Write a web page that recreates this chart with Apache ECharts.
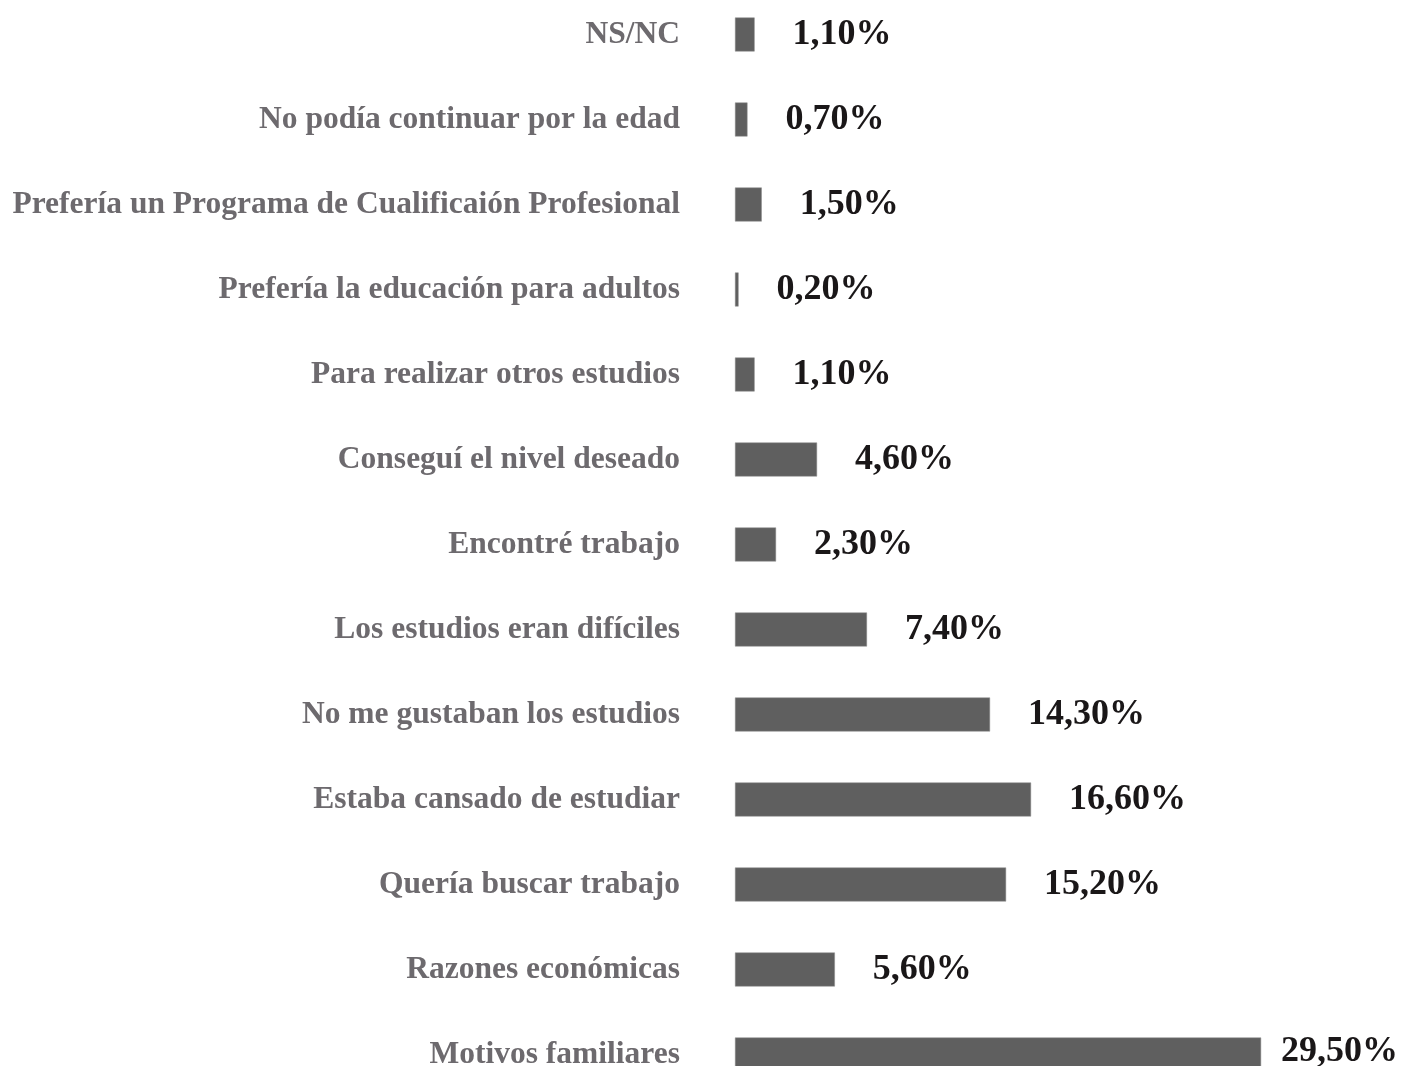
<!DOCTYPE html>
<html>
<head>
<meta charset="utf-8">
<script src="https://cdn.jsdelivr.net/npm/echarts@6/dist/echarts.min.js"></script>
<style>
  html, body { margin: 0; padding: 0; background: #fff; }
  #chart { width: 1402px; height: 1066px; }
</style>
</head>
<body>
<div id="chart"></div>
<script>
  // categories listed top to bottom
  const categories = [
    "NS/NC",
    "No podía continuar por la edad",
    "Prefería un Programa de Cualificaión Profesional",
    "Prefería la educación para adultos",
    "Para realizar otros estudios",
    "Conseguí el nivel deseado",
    "Encontré trabajo",
    "Los estudios eran difíciles",
    "No me gustaban los estudios",
    "Estaba cansado de estudiar",
    "Quería buscar trabajo",
    "Razones económicas",
    "Motivos familiares"
  ];
  const values = [1.1, 0.7, 1.5, 0.2, 1.1, 4.6, 2.3, 7.4, 14.3, 16.6, 15.2, 5.6, 29.5];

  const chart = echarts.init(document.getElementById("chart"));
  const chartW = chart.getWidth();
  const option = {
    animation: false,
    grid: {
      left: 735,
      width: 535,
      top: -8,
      height: 1105,
      outerBoundsMode: "none",
      containLabel: false
    },
    xAxis: {
      type: "value",
      min: 0,
      max: 30,
      show: false
    },
    yAxis: {
      type: "category",
      inverse: true,
      data: categories,
      axisLine: { show: false },
      axisTick: { show: false },
      axisLabel: {
        margin: 55,
        color: "#6d6a6e",
        fontFamily: "Liberation Serif",
        fontWeight: "bold",
        fontSize: 31.5
      }
    },
    series: [{
      type: "bar",
      data: values,
      barWidth: 34,
      itemStyle: {
        color: "#5f5f5f",
        borderColor: "#8a8a8a",
        borderWidth: 0.5
      },
      label: {
        show: true,
        position: "right",
        distance: 38,
        offset: [0, -3],
        color: "#1a1718",
        fontFamily: "Liberation Serif",
        fontWeight: "bold",
        fontSize: 36,
        formatter: p => p.value.toFixed(2).replace(".", ",") + "%"
      },
      // keep labels inside the canvas (the longest bar's label sits closer)
      labelLayout: params => {
        const r = params.labelRect;
        if (r.x + r.width > chartW - 4) {
          return {
            x: chartW - 4 - r.width,
            y: r.y + r.height / 2,
            align: "left",
            verticalAlign: "middle"
          };
        }
        return {};
      }
    }]
  };
  chart.setOption(option);
</script>
</body>
</html>
